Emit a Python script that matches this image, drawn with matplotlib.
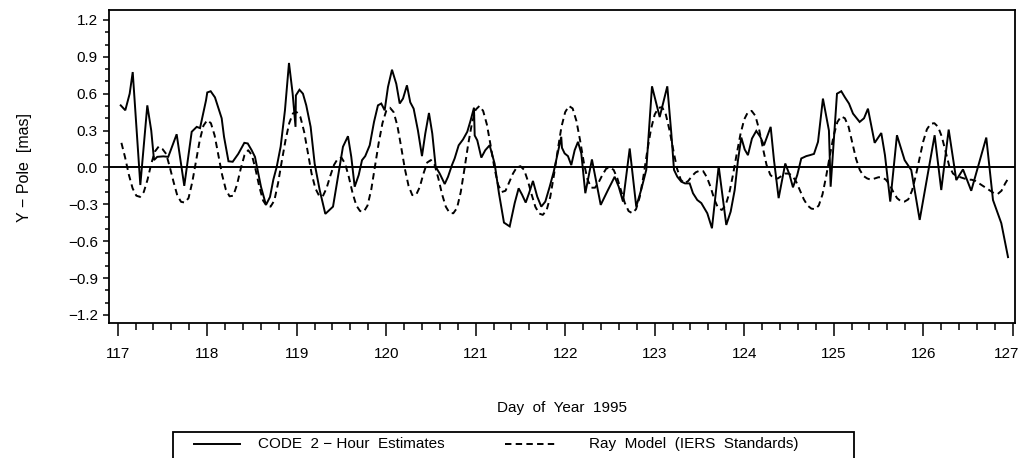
import numpy as np
import matplotlib
matplotlib.use("Agg")
import matplotlib.pyplot as plt
from matplotlib.patches import Rectangle
from matplotlib.lines import Line2D
from matplotlib.ticker import MultipleLocator
from matplotlib.transforms import ScaledTranslation

plt.rcParams['font.family'] = ['Liberation Sans', 'DejaVu Sans']

# CODE 2-hour estimates (day of year, Y-pole in mas)
code_day = [117.034, 117.085, 117.134, 117.168, 117.253, 117.331, 117.375, 117.406, 117.442, 117.510,
            117.565, 117.659, 117.744, 117.827, 117.883, 117.920, 117.987, 118.001, 118.039, 118.087,
            118.162, 118.188, 118.238, 118.285, 118.347, 118.415, 118.453, 118.497, 118.534, 118.601,
            118.657, 118.702, 118.739, 118.777, 118.821, 118.869, 118.914, 118.955, 118.987, 118.991,
            119.031, 119.070, 119.107, 119.156, 119.201, 119.257, 119.320, 119.406, 119.461, 119.517,
            119.573, 119.610, 119.648, 119.693, 119.730, 119.766, 119.816, 119.864, 119.908, 119.945,
            119.983, 120.020, 120.065, 120.113, 120.151, 120.188, 120.232, 120.269, 120.307, 120.355,
            120.400, 120.437, 120.478, 120.515, 120.553, 120.598, 120.654, 120.691, 120.735, 120.765,
            120.810, 120.858, 120.906, 120.944, 120.981, 120.989, 121.018, 121.063, 121.107, 121.156,
            121.212, 121.260, 121.316, 121.380, 121.436, 121.480, 121.517, 121.559, 121.596, 121.640,
            121.688, 121.733, 121.778, 121.827, 121.872, 121.920, 121.956, 121.964, 121.994, 122.031,
            122.068, 122.106, 122.143, 122.180, 122.225, 122.299, 122.397, 122.478, 122.553, 122.598,
            122.646, 122.721, 122.794, 122.850, 122.906, 122.970, 123.056, 123.141, 123.186, 123.216,
            123.253, 123.297, 123.339, 123.391, 123.428, 123.476, 123.521, 123.588, 123.640, 123.715,
            123.800, 123.849, 123.894, 123.931, 123.968, 124.006, 124.042, 124.087, 124.135, 124.180,
            124.221, 124.258, 124.296, 124.333, 124.385, 124.459, 124.508, 124.545, 124.593, 124.638,
            124.694, 124.735, 124.780, 124.825, 124.880, 124.947, 124.966, 125.037, 125.085, 125.126,
            125.171, 125.216, 125.290, 125.339, 125.383, 125.458, 125.532, 125.573, 125.632, 125.707,
            125.793, 125.867, 125.961, 126.128, 126.202, 126.285, 126.370, 126.445, 126.537, 126.705,
            126.780, 126.873, 126.948]
code_ypole = [0.505, 0.465, 0.60, 0.776, -0.143, 0.505, 0.30, 0.06, 0.086, 0.09,
              0.086, 0.27, -0.15, 0.29, 0.33, 0.32, 0.546, 0.61, 0.62, 0.57,
              0.40, 0.25, 0.05, 0.046, 0.11, 0.20, 0.195, 0.14, 0.086, -0.157,
              -0.305, -0.24, -0.10, 0.005, 0.17, 0.465, 0.85, 0.60, 0.33, 0.586,
              0.632, 0.60, 0.505, 0.33, 0.03, -0.184, -0.378, -0.319, -0.076, 0.168,
              0.254, 0.086, -0.157, -0.062, 0.059, 0.092, 0.18, 0.37, 0.505, 0.52,
              0.465, 0.654, 0.795, 0.68, 0.52, 0.56, 0.668, 0.53, 0.478, 0.30,
              0.092, 0.276, 0.443, 0.276, 0.005, -0.05, -0.135, -0.076, 0.019, 0.073,
              0.18, 0.227, 0.29, 0.384, 0.486, 0.26, 0.22, 0.08, 0.14, 0.18,
              0.03, -0.21, -0.449, -0.48, -0.29, -0.17, -0.22, -0.286, -0.21, -0.11,
              -0.238, -0.319, -0.278, -0.157, -0.035, 0.127, 0.249, 0.16, 0.114, 0.092,
              0.019, 0.14, 0.208, 0.114, -0.21, 0.065, -0.305, -0.184, -0.076, -0.157,
              -0.278, 0.154, -0.319, -0.18, -0.02, 0.66, 0.41, 0.66, 0.276, -0.02,
              -0.076, -0.116, -0.13, -0.13, -0.21, -0.265, -0.29, -0.373, -0.495, 0.01,
              -0.468, -0.36, -0.184, 0.06, 0.243, 0.146, 0.10, 0.235, 0.297, 0.249,
              0.18, 0.254, 0.33, 0.059, -0.25, 0.032, -0.062, -0.162, -0.062, 0.073,
              0.092, 0.10, 0.11, 0.208, 0.56, 0.30, -0.157, 0.60, 0.62, 0.57,
              0.52, 0.438, 0.37, 0.40, 0.478, 0.20, 0.28, 0.10, -0.278, 0.262,
              0.059, -0.022, -0.427, 0.262, -0.184, 0.308, -0.103, -0.016, -0.19, 0.243,
              -0.265, -0.454, -0.73]

# Ray model (IERS Standards), hourly values starting 1 h after the start of day 117
ray_hour = np.arange(1, 240)
ray_ypole = [0.20, 0.08, -0.06, -0.17, -0.23, -0.24, -0.20, -0.10, 0.03, 0.13, 0.17, 0.15,
             0.11, 0.00, -0.12, -0.23, -0.28, -0.286, -0.25, -0.12, 0.05, 0.22, 0.34, 0.384,
             0.36, 0.26, 0.10, -0.06, -0.18, -0.235, -0.23, -0.14, -0.01, 0.10, 0.14, 0.10,
             -0.02, -0.16, -0.27, -0.315, -0.319, -0.27, -0.13, 0.05, 0.22, 0.36, 0.44, 0.45,
             0.41, 0.29, 0.12, -0.05, -0.17, -0.23, -0.235, -0.17, -0.07, 0.02, 0.07, 0.08,
             0.03, -0.08, -0.21, -0.31, -0.355, -0.36, -0.31, -0.18, 0.01, 0.20, 0.36, 0.46,
             0.486, 0.45, 0.34, 0.17, -0.01, -0.15, -0.225, -0.225, -0.16, -0.05, 0.04, 0.06,
             0.02, -0.09, -0.22, -0.32, -0.37, -0.373, -0.33, -0.20, -0.01, 0.19, 0.36, 0.47,
             0.50, 0.46, 0.35, 0.18, 0.00, -0.14, -0.20, -0.19, -0.12, -0.05, 0.00, 0.01,
             -0.02, -0.11, -0.22, -0.32, -0.375, -0.386, -0.35, -0.24, -0.06, 0.14, 0.33, 0.45,
             0.50, 0.48, 0.38, 0.22, 0.04, -0.10, -0.165, -0.165, -0.12, -0.06, -0.01, 0.00,
             -0.02, -0.09, -0.19, -0.29, -0.355, -0.373, -0.34, -0.24, -0.07, 0.13, 0.31, 0.43,
             0.485, 0.49, 0.43, 0.30, 0.14, -0.01, -0.10, -0.13, -0.11, -0.07, -0.04, -0.027,
             -0.03, -0.08, -0.16, -0.26, -0.33, -0.346, -0.31, -0.21, -0.06, 0.11, 0.27, 0.39,
             0.45, 0.46, 0.42, 0.31, 0.16, 0.02, -0.06, -0.09, -0.09, -0.07, -0.05, -0.05,
             -0.07, -0.12, -0.19, -0.26, -0.31, -0.335, -0.34, -0.31, -0.22, -0.07, 0.10, 0.26,
             0.37, 0.415, 0.40, 0.33, 0.20, 0.07, -0.02, -0.07, -0.09, -0.10, -0.09, -0.08,
             -0.08, -0.10, -0.14, -0.20, -0.25, -0.275, -0.278, -0.26, -0.19, -0.07, 0.07, 0.21,
             0.31, 0.355, 0.36, 0.33, 0.25, 0.13, 0.01, -0.05, -0.07, -0.08, -0.09, -0.10,
             -0.10, -0.11, -0.13, -0.15, -0.17, -0.19, -0.21, -0.216, -0.19, -0.13, -0.08]
ray_day = 117 + ray_hour / 24.0

x_ticks = list(range(117, 128))
y_ticks = [-1.2, -0.9, -0.6, -0.3, 0.0, 0.3, 0.6, 0.9, 1.2]
y_ticklabels = ['\u22121.2', '\u22120.9', '\u22120.6', '\u22120.3', '0.0', '0.3', '0.6', '0.9', '1.2']

label_code = 'CODE  2 \u2212 Hour  Estimates'
label_ray = 'Ray  Model  (IERS  Standards)'

W, H = 1021, 458
DASH = (3.3, 2.2)
fig = plt.figure(figsize=(W / 100, H / 100), dpi=100)
ax = fig.add_axes([109 / W, 1 - 323 / H, (1015 - 109) / W, (323 - 10) / H])

ax.plot(code_day, code_ypole, color='black', lw=1.4, solid_joinstyle='miter')
ax.plot(ray_day, ray_ypole, color='black', lw=1.4, dashes=DASH)
ax.axhline(0.0, color='black', lw=1.4)

ax.set_xlim(116.903, 127.026)
ax.set_ylim(-1.266, 1.281)
ax.set_xticks(x_ticks)
ax.set_xticklabels([str(t) for t in x_ticks])
ax.xaxis.set_minor_locator(MultipleLocator(0.2))
ax.set_yticks(y_ticks)
ax.set_yticklabels(y_ticklabels)
ax.yaxis.set_minor_locator(MultipleLocator(0.1))

ax.tick_params(axis='x', which='major', direction='out', length=9, width=1.1, pad=8, labelsize=11)
ax.tick_params(axis='x', which='minor', direction='out', length=5, width=1.1)
ax.tick_params(axis='y', which='major', direction='out', length=4.5, width=1.1, pad=3.5, labelsize=11)
ax.tick_params(axis='y', which='minor', direction='out', length=3, width=1.1)
for s in ax.spines.values():
    s.set_linewidth(1.3)

# shift the last x tick label inward so it stays inside the figure, as in the original
last = ax.get_xticklabels()[-1]
last.set_transform(last.get_transform() + ScaledTranslation(-6 / 100, 0, fig.dpi_scale_trans))

fig.text(25 / W, 1 - 167 / H, 'Y \u2212 Pole  [mas]', rotation=90, ha='center', va='center', fontsize=11.5)
fig.text(562 / W, 1 - 408 / H, 'Day  of  Year  1995', ha='center', va='center', fontsize=11)

# legend box
lx0, lx1, ly0, ly1 = 173, 854, 432, 470
fig.patches.append(Rectangle((lx0 / W, 1 - ly1 / H), (lx1 - lx0) / W, (ly1 - ly0) / H,
                             transform=fig.transFigure, fill=False, edgecolor='black', lw=1.3))
ly = 1 - 444 / H
fig.lines.append(Line2D([194 / W, 240 / W], [ly, ly], transform=fig.transFigure, color='black', lw=1.4))
fig.text(258 / W, ly, label_code, ha='left', va='center', fontsize=11)
fig.lines.append(Line2D([505 / W, 558 / W], [ly, ly], transform=fig.transFigure, color='black', lw=1.4,
                        dashes=DASH))
fig.text(589 / W, ly, label_ray, ha='left', va='center', fontsize=11)

fig.savefig('out.png', dpi=100)
